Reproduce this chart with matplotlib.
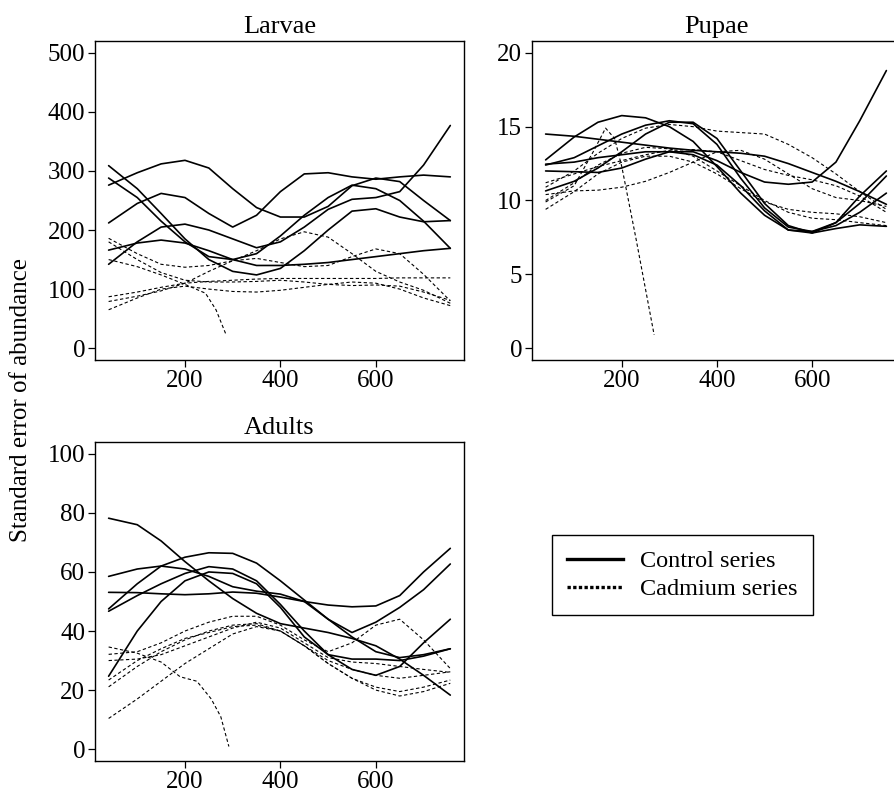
import matplotlib
matplotlib.use('Agg')
import matplotlib.pyplot as plt
from matplotlib.lines import Line2D

plt.rcParams['font.family'] = ['Liberation Serif', 'DejaVu Serif']
plt.rcParams['font.size'] = 18

# sampling points along the time axis
x_pts = [40, 100, 150, 200, 250, 300, 350, 400, 450, 500, 550, 600, 650, 700, 756]

# Larvae
larvae_control = [
    [276, 297, 312, 318, 305, 270, 238, 222, 222, 240, 275, 288, 282, 250, 216],
    [212, 245, 262, 255, 228, 205, 225, 265, 295, 297, 290, 286, 290, 293, 290],
    [309, 270, 228, 185, 150, 130, 124, 135, 165, 200, 232, 236, 222, 214, 216],
    [288, 255, 215, 180, 155, 150, 160, 190, 225, 255, 276, 270, 250, 215, 169],
    [166, 178, 183, 178, 165, 150, 140, 140, 142, 145, 150, 155, 160, 165, 169],
    [142, 180, 205, 210, 200, 185, 170, 180, 205, 235, 252, 255, 265, 310, 377],
]
larvae_cadmium = [
    [79, 88, 97, 110, 130, 148, 165, 185, 197, 188, 160, 130, 112, 98, 76],
    [186, 160, 142, 137, 140, 148, 152, 145, 138, 140, 155, 168, 160, 125, 80],
    [87, 95, 103, 110, 113, 115, 117, 118, 118, 118, 118, 118, 119, 119, 119],
    [65, 85, 100, 105, 100, 96, 95, 98, 103, 108, 112, 110, 100, 85, 72],
    [180, 150, 128, 115, 112, 112, 113, 115, 112, 108, 106, 107, 105, 95, 81],
]
larvae_drop_x = [40, 100, 150, 200, 243, 265, 285]
larvae_drop_y = [150, 138, 124, 108, 93, 65, 25]

# Pupae
pupae_control = [
    [14.5, 14.35, 14.15, 13.95, 13.75, 13.55, 13.4, 13.3, 13.2, 13.0, 12.5, 11.9, 11.3, 10.6, 9.74],
    [12.0, 11.95, 11.9, 12.2, 12.8, 13.3, 13.3, 12.7, 11.9, 11.25, 11.1, 11.25, 12.6, 15.4, 18.8],
    [12.75, 14.3, 15.3, 15.75, 15.6, 15.0, 14.0, 12.3, 10.5, 9.0, 8.0, 7.8, 8.1, 8.35, 8.25],
    [12.4, 12.9, 13.7, 14.5, 15.1, 15.4, 15.2, 13.8, 11.5, 9.5, 8.2, 7.9, 8.5, 9.8, 11.66],
    [10.65, 11.3, 12.2, 13.3, 14.5, 15.3, 15.3, 14.2, 12.0, 9.8, 8.3, 7.8, 8.5, 10.3, 12.0],
    [12.46, 12.6, 12.9, 13.1, 13.3, 13.3, 13.1, 12.4, 11.0, 9.3, 8.0, 7.9, 8.3, 9.2, 10.5],
]
pupae_cadmium = [
    [10.9, 12.0, 13.2, 14.2, 14.9, 15.15, 15.0, 14.7, 14.6, 14.5, 13.8, 12.9, 11.8, 10.6, 9.4],
    [11.2, 11.8, 12.3, 12.7, 13.1, 13.4, 13.45, 13.3, 12.7, 12.1, 11.7, 11.4, 11.0, 10.3, 9.2],
    [10.4, 10.65, 10.7, 10.9, 11.3, 11.9, 12.6, 13.3, 13.4, 12.8, 11.8, 10.8, 10.2, 10.0, 9.6],
    [9.4, 10.6, 11.8, 12.6, 13.0, 13.0, 12.6, 11.8, 10.8, 9.9, 9.4, 9.2, 9.1, 8.9, 8.5],
    [10.0, 11.2, 12.4, 13.2, 13.6, 13.5, 13.0, 12.0, 11.0, 10.0, 9.2, 8.8, 8.7, 8.5, 8.3],
]
pupae_drop_x = [40, 100, 140, 166, 185, 200, 230, 268]
pupae_drop_y = [9.9, 11.0, 13.3, 14.9, 14.2, 12.3, 7.4, 0.9]

# Adults
adults_control = [
    [78.2, 76, 70.5, 63.5, 57, 51, 46, 42.5, 41, 39.5, 37.5, 35, 30.5, 25, 18.3],
    [53.1, 53, 52.6, 52.3, 52.6, 53.2, 52.8, 51.5, 50, 48.8, 48.2, 48.5, 52, 60, 68],
    [58.5, 61, 62, 61, 58.5, 55, 53.5, 52.5, 50, 44, 38, 33, 31, 32, 34],
    [47.5, 56, 62, 65, 66.5, 66.3, 63, 57, 50.5, 44, 39.5, 43, 48, 54, 62.7],
    [46.7, 52, 56, 59.5, 61.8, 61, 57, 49, 40, 32, 27, 25, 28, 36, 44],
    [24.7, 40, 50, 57, 60, 59.5, 56, 48, 38, 32, 30.5, 30.5, 30, 31.5, 34],
]
adults_cadmium = [
    [32.1, 33, 36, 40, 43, 45, 45, 42, 37, 33, 36, 42, 44, 37, 27.3],
    [23.4, 30, 34, 37.5, 39.5, 41.5, 42, 40, 35, 30, 27, 25, 24, 25, 26.2],
    [21.1, 28, 33, 37, 40, 42, 42.5, 40, 35, 29, 24, 21, 19.5, 21, 23.4],
    [10.4, 17, 23, 29, 34, 39, 41.5, 40, 35, 29, 24, 20, 18, 19.5, 22.3],
    [30, 30.5, 32, 35, 38, 41, 43, 41, 36, 31, 29.5, 29, 28, 27, 26],
]
adults_drop_x = [40, 100, 150, 190, 225, 255, 275, 292]
adults_drop_y = [34.6, 32.5, 29.5, 24.5, 23, 17, 11, 0.9]

panels = [
    ('Larvae', larvae_control, larvae_cadmium, larvae_drop_x, larvae_drop_y,
     (0, 500), [0, 100, 200, 300, 400, 500], [0.1061, 0.5472, 0.4123, 0.4012]),
    ('Pupae', pupae_control, pupae_cadmium, pupae_drop_x, pupae_drop_y,
     (0, 20), [0, 5, 10, 15, 20], [0.5944, 0.5472, 0.4112, 0.4012]),
    ('Adults', adults_control, adults_cadmium, adults_drop_x, adults_drop_y,
     (0, 100), [0, 20, 40, 60, 80, 100], [0.1061, 0.0428, 0.4123, 0.4012]),
]

fig = plt.figure(figsize=(8.95, 7.95), dpi=100)

for title, control, cadmium, dx, dy, ylim, yticks, rect in panels:
    ax = fig.add_axes(rect)
    for ys in control:
        ax.plot(x_pts, ys, color='black', lw=1.2, solid_capstyle='round')
    for ys in cadmium:
        ax.plot(x_pts, ys, color='black', lw=0.8, dashes=(3, 2.2))
    ax.plot(dx, dy, color='black', lw=0.8, dashes=(3, 2.2))
    span = ylim[1] - ylim[0]
    ax.set_ylim(ylim[0] - 0.04 * span, ylim[1] + 0.04 * span)
    ax.set_xlim(40 - 0.04 * 716, 756 + 0.04 * 716)
    ax.set_xticks([200, 400, 600])
    ax.set_yticks(yticks)
    ax.tick_params(direction='out', length=5, width=0.9, labelsize=18, pad=2)
    for s in ax.spines.values():
        s.set_linewidth(1.0)
    ax.set_title(title, fontsize=19, pad=6)

fig.text(0.024, 0.497, 'Standard error of abundance', rotation=90,
         ha='center', va='center', fontsize=18)

handles = [Line2D([], [], color='black', lw=2.4),
           Line2D([], [], color='black', lw=2.4, dashes=(1.0, 0.7))]
fig.legend(handles, ['Control series', 'Cadmium series'],
           loc='upper left', bbox_to_anchor=(0.6168, 0.327),
           frameon=True, fancybox=False, edgecolor='black', framealpha=1,
           fontsize=17.5, handlelength=2.3, handletextpad=0.7,
           labelspacing=0.25, borderpad=0.62, borderaxespad=0)

fig.savefig('out.png', dpi=100)
